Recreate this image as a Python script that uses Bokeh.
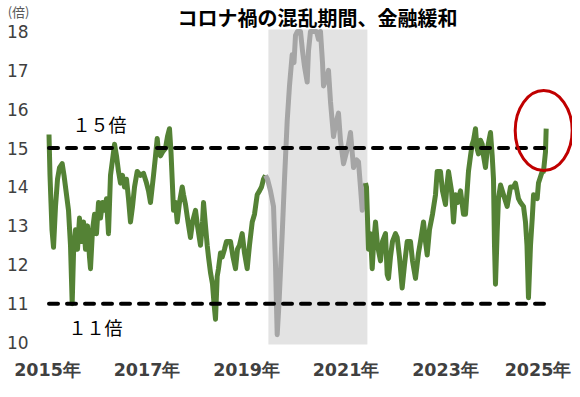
from bokeh.plotting import figure
from bokeh.models import Range1d, Label
from bokeh.embed import file_html
from bokeh.resources import INLINE
from bokeh.core.properties import value

# ---- data ----
years = [2015.03, 2015.05, 2015.07, 2015.09, 2015.121, 2015.161, 2015.201, 2015.241, 2015.295, 2015.332,
         2015.372, 2015.422, 2015.462, 2015.496, 2015.523, 2015.563, 2015.603, 2015.643, 2015.683, 2015.724,
         2015.764, 2015.804, 2015.844, 2015.864, 2015.905, 2015.945, 2015.985, 2016.025, 2016.065, 2016.106,
         2016.146, 2016.186, 2016.226, 2016.266, 2016.307, 2016.347, 2016.387, 2016.427, 2016.467, 2016.508,
         2016.548, 2016.588, 2016.628, 2016.668, 2016.709, 2016.749, 2016.803, 2016.869, 2016.930, 2016.990,
         2017.030, 2017.070, 2017.131, 2017.171, 2017.205, 2017.231, 2017.271, 2017.312, 2017.372, 2017.412,
         2017.452, 2017.482, 2017.506, 2017.533, 2017.573, 2017.607, 2017.653, 2017.708, 2017.734, 2017.774,
         2017.824, 2017.874, 2017.915, 2017.975, 2018.015, 2018.075, 2018.116, 2018.136, 2018.176, 2018.210,
         2018.236, 2018.276, 2018.317, 2018.347, 2018.377, 2018.411, 2018.437, 2018.477, 2018.512, 2018.558,
         2018.598, 2018.638, 2018.678, 2018.729, 2018.779, 2018.819, 2018.859, 2018.913, 2018.960, 2019.014,
         2019.060, 2019.115, 2019.161, 2019.215, 2019.261, 2019.302, 2019.342, 2019.382,
         2019.422, 2019.482, 2019.543, 2019.583, 2019.617, 2019.653, 2019.718, 2019.764, 2019.818, 2019.864,
         2019.918, 2019.955, 2019.985, 2020.025, 2020.085, 2020.126, 2020.166, 2020.220, 2020.246, 2020.286,
         2020.347, 2020.407, 2020.447, 2020.487, 2020.528, 2020.548, 2020.608, 2020.648, 2020.688, 2020.749,
         2020.789, 2020.849, 2020.889, 2020.950, 2021.010, 2021.050, 2021.090, 2021.131, 2021.151, 2021.211,
         2021.251, 2021.291, 2021.326, 2021.352, 2021.392,
         2021.412, 2021.452, 2021.492, 2021.527, 2021.553, 2021.593, 2021.633, 2021.693, 2021.734, 2021.794,
         2021.828, 2021.854, 2021.894, 2021.935, 2021.995, 2022.029, 2022.075, 2022.129, 2022.176, 2022.230,
         2022.296, 2022.337, 2022.397, 2022.457, 2022.497, 2022.558, 2022.598, 2022.632, 2022.678, 2022.739,
         2022.799, 2022.833, 2022.899, 2022.940, 2023.000, 2023.034, 2023.060, 2023.121, 2023.161, 2023.201,
         2023.241, 2023.302, 2023.362, 2023.402, 2023.462, 2023.503, 2023.537, 2023.563, 2023.603, 2023.633,
         2023.663, 2023.704, 2023.738, 2023.764, 2023.804, 2023.844, 2023.905, 2023.939, 2023.965, 2023.985,
         2024.005, 2024.039, 2024.065, 2024.106, 2024.166, 2024.240, 2024.307, 2024.367, 2024.407, 2024.467,
         2024.508, 2024.568, 2024.608, 2024.638, 2024.668, 2024.709, 2024.744, 2024.770, 2024.843, 2024.869,
         2024.944, 2024.970, 2025.010, 2025.024]
per = [15.35, 14.3, 13.6, 12.9, 12.45, 13.5, 14.2, 14.5, 14.6, 14.3,
       13.9, 13.4, 12.5, 11.0, 12.3, 12.9, 12.4, 13.2, 12.6, 13.1,
       12.4, 13.0, 12.2, 11.9, 12.9, 13.3, 12.8, 13.6, 13.2, 13.6,
       13.4, 13.7, 12.8, 14.3, 14.7, 15.1, 14.8, 14.4, 14.1, 14.3,
       14.0, 14.2, 13.7, 13.1, 13.5, 14.0, 14.4, 14.3, 14.35, 14.1,
       13.9, 13.6, 14.3, 14.8, 15.25, 14.9, 14.8, 14.9, 15.0, 15.3,
       15.5, 14.9, 14.2, 13.4, 13.6, 13.1, 13.6, 14.0, 13.8, 13.55,
       13.1, 12.7, 13.1, 13.4, 13.0, 12.5, 13.1, 13.6, 13.0, 12.5,
       12.2, 11.8, 11.5, 11.0, 10.6, 11.7, 11.9, 12.3, 12.2, 12.4,
       12.6, 12.6, 12.6, 12.2, 11.9, 12.4, 12.5, 12.8, 12.3, 11.9,
       12.5, 13.1, 13.3, 13.8, 13.9, 14.0, 14.2, 14.3,
       14.2, 13.9, 13.5, 12.0, 10.2, 11.0, 12.8, 14.2, 15.7, 16.6,
       17.4, 17.2, 17.9, 18.0, 18.0, 17.5, 17.1, 16.7, 17.5, 18.0,
       18.0, 18.0, 17.8, 18.0, 17.2, 16.6, 16.8, 17.0, 16.2, 15.3,
       15.6, 15.9, 15.2, 14.6, 14.9, 15.1, 15.4, 14.8, 14.5, 14.7,
       14.65, 14.0, 13.4, 13.6, 14.1,
       14.0, 12.4, 12.8, 11.9, 12.5, 13.1, 12.5, 12.1, 12.6, 12.8,
       11.75, 11.65, 12.2, 12.6, 12.8, 12.7, 12.2, 11.4, 12.0, 12.6,
       12.6, 12.1, 11.65, 12.3, 12.6, 13.1, 12.6, 12.25, 12.9, 13.3,
       13.8, 14.4, 14.4, 13.9, 13.55, 14.1, 14.4, 13.9, 13.1, 13.8,
       13.6, 13.9, 13.3, 13.3, 14.4, 14.8, 15.1, 15.2, 15.5, 15.0,
       14.85, 15.2, 15.1, 14.8, 14.5, 15.0, 15.4, 14.8, 14.2, 12.5,
       11.5, 12.85, 13.7, 14.05, 13.8, 13.5, 14.0, 14.0, 14.1, 13.7,
       13.6, 13.5, 13.1, 12.5, 11.15, 12.5, 13.2, 13.8, 13.7, 14.1,
       14.4, 14.4, 14.9, 15.5]

covid_start, covid_end = 2019.39, 2021.39      # grey part of the line
shade_start, shade_end = 2019.44, 2021.43      # shaded band
ref_levels = [15, 11]
ref_labels = ["１５倍", "１１倍"]
y_ticks = [10, 11, 12, 13, 14, 15, 16, 17, 18]
y_tick_labels = ["10", "11", "12", "13", "14", "15", "16", "17", "18"]
x_ticks = [2015, 2017, 2019, 2021, 2023, 2025]
x_tick_labels = ["2015年", "2017年", "2019年", "2021年", "2023年", "2025年"]
title_text = "コロナ禍の混乱期間、金融緩和"
unit_text = "(倍)"

GREEN = "#548235"
GREY = "#a5a5a5"
Y0, Y1 = 8.997, 18.797
X0, X1 = 2014.055, 2025.553

p = figure(width=572, height=381, output_backend="svg", toolbar_location=None,
           x_range=Range1d(X0, X1), y_range=Range1d(Y0, Y1),
           min_border_left=0, min_border_right=0, min_border_top=0, min_border_bottom=0)
p.outline_line_color = None
p.xgrid.visible = False
p.ygrid.visible = False
p.xaxis.visible = False
p.yaxis.visible = False
p.background_fill_color = "white"
p.border_fill_color = "white"

# shaded covid band
p.quad(left=[shade_start], right=[shade_end], bottom=[9.949], top=[18.05],
       fill_color="#e3e3e3", line_color=None)

# tick labels
p.text(x=[2014.618] * len(y_ticks), y=y_ticks, text=y_tick_labels,
       text_font=value("DejaVu Sans"), text_font_size="17px", text_color="#404040",
       text_align="right", text_baseline="middle")
p.text(x=x_ticks, y=[9.28] * len(x_ticks), text=x_tick_labels,
       x_offset=[0, 0, 0, 0, 0, -7],
       text_font=value("DejaVu Sans"), text_font_style="bold", text_font_size="17.5px",
       text_color="#404040", text_align="center", text_baseline="middle")

# split series
ia = max(i for i, y in enumerate(years) if y <= covid_start)
ib = min(i for i, y in enumerate(years) if y >= covid_end)
p.line(years[:ia + 1], per[:ia + 1], line_color=GREEN, line_width=5, line_join="round")
p.line(years[ia:ib + 1], per[ia:ib + 1], line_color=GREY, line_width=5, line_join="round")
p.line(years[ib:], per[ib:], line_color=GREEN, line_width=5, line_join="round")

# reference dashed lines
for lvl in ref_levels:
    p.line([years[0], years[-1]], [lvl, lvl], line_color="black", line_width=4,
           line_dash="9 9", line_cap="round")

# labels of the reference lines
p.add_layout(Label(x=2015.5, y=15.63, text=ref_labels[0], text_font="Noto Sans CJK JP",
                   text_font_size="18px", text_color="black",
                   text_align="left", text_baseline="middle"))
p.add_layout(Label(x=2015.42, y=10.39, text=ref_labels[1], text_font="Noto Sans CJK JP",
                   text_font_size="18px", text_color="black",
                   text_align="left", text_baseline="middle"))

# title and unit
p.add_layout(Label(x=2020.427, y=18.36, text=title_text, text_font="Noto Sans CJK JP",
                   text_font_size="20px", text_font_style="bold", text_color="black",
                   text_align="center", text_baseline="middle"))
p.add_layout(Label(x=2014.2, y=18.77, text=unit_text, text_font="Noto Sans CJK JP",
                   text_font_size="13px", text_color="#595959",
                   text_align="left", text_baseline="top"))

# red ellipse around the latest value
p.ellipse(x=[years[-1] - 0.05], y=[per[-1] - 0.05], width=57, height=80,
          width_units="screen", height_units="screen",
          fill_color=None, line_color="#c00000", line_width=3)

open("out.html", "w").write(file_html(p, INLINE))
